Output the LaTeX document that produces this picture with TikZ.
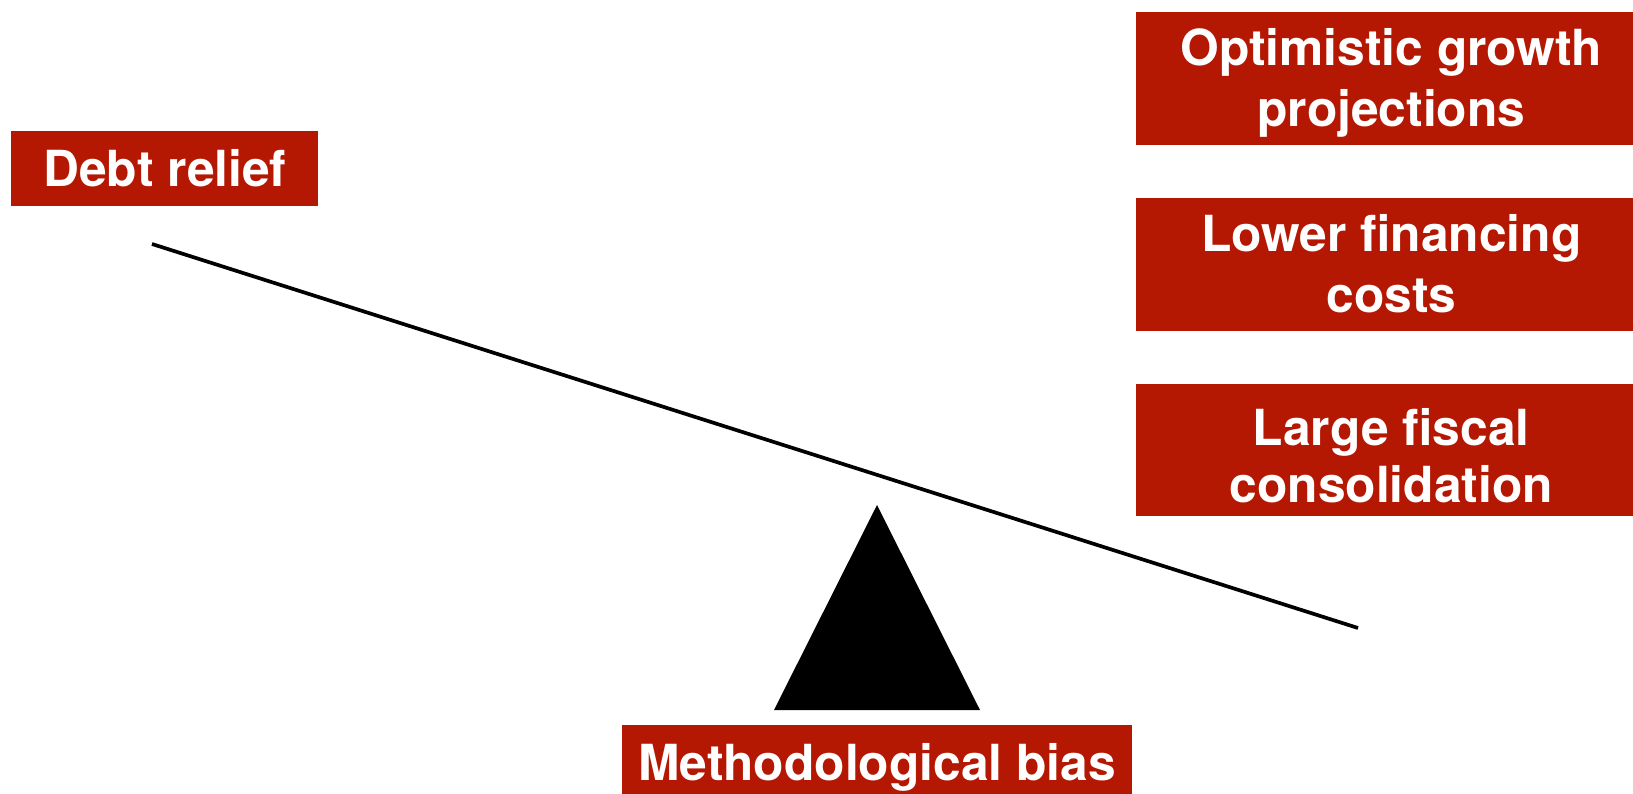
\documentclass[tikz,border=0pt]{standalone}
\usepackage{fontspec}
\setmainfont{TeX Gyre Heros}
\usetikzlibrary{positioning}
\definecolor{boxred}{RGB}{181,24,2}
% struts that set where the lines sit in a box
\newcommand{\tagup}[1]{\rule{0pt}{#1}}
\newcommand{\tagdn}[1]{\rule[-#1]{0pt}{#1}}

\begin{document}
\begin{tikzpicture}[x=0.02cm, y=-0.02cm,
  tag/.style={fill=boxred, text=white, inner sep=0pt, align=center,
              font=\bfseries\fontsize{28.3}{34.6}\selectfont},
  side/.style={tag, anchor=north west, minimum width=10.2cm, minimum height=2.66cm}]
\useasboundingbox (0,0) rectangle (1633,794);
% left weight
\node[tag, anchor=north west, minimum width=6.14cm, minimum height=1.5cm] (relief) at (11,131)
  {\tagup{26pt}\tagdn{6pt}Debt relief};
% right weights, stacked
\node[side] (growth) at (1136,12) {\tagup{26pt}Optimistic growth\\projections\tagdn{6pt}};
\node[side, below=1.04cm of growth] (financing) {\tagup{26pt}Lower financing\\costs\tagdn{6pt}};
\node[side, below=1.04cm of financing, minimum height=2.64cm,
      font=\bfseries\fontsize{28.3}{32.3}\selectfont] (fiscal)
  {\tagup{31pt}Large fiscal\\consolidation\tagdn{3pt}};
% tilted beam on its pivot
\coordinate (beamL) at (152,244);
\coordinate (beamR) at (1358,628);
\draw[line width=2.1pt] (beamL) -- (beamR);
\coordinate (apex) at (877,505);
\fill (apex) -- (774,710) -- (980,710) -- cycle;
\node[tag, anchor=north, minimum width=10.2cm, minimum height=1.5cm] (bias) at (877,725)
  {\tagup{26pt}\tagdn{6pt}Methodological bias};
\end{tikzpicture}
\end{document}
